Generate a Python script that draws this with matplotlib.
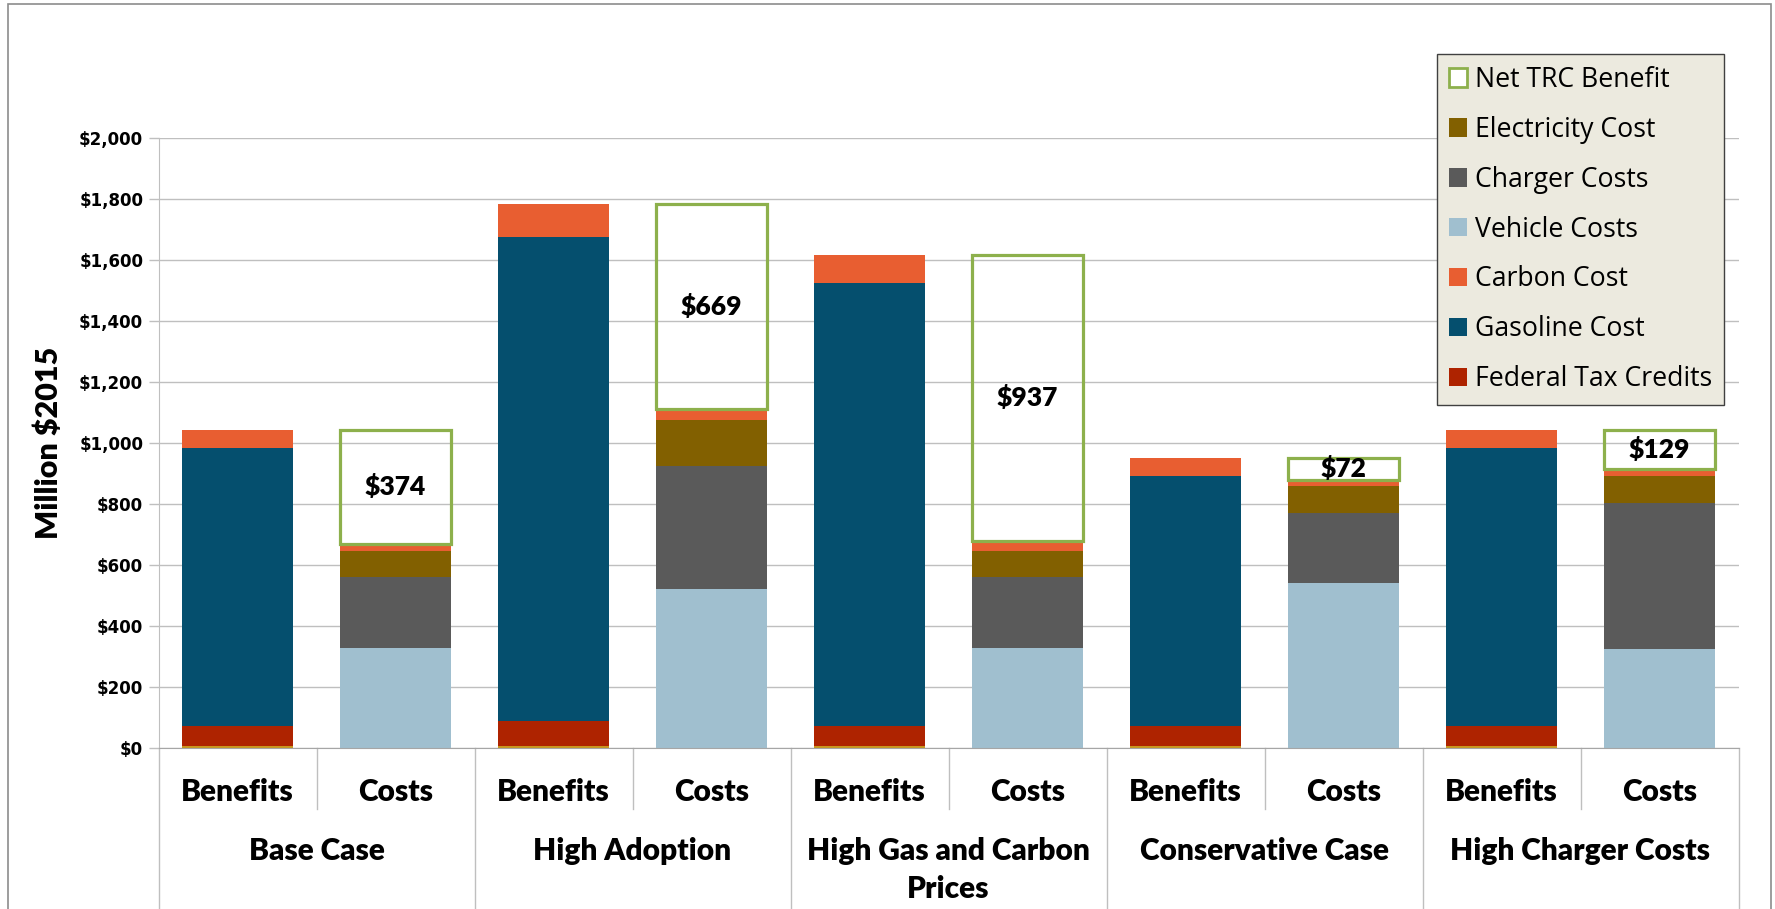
import numpy as np
import matplotlib
matplotlib.use("Agg")
import matplotlib.pyplot as plt
from matplotlib.patches import Patch, Rectangle
from matplotlib.transforms import blended_transform_factory
from matplotlib.ticker import FuncFormatter

plt.rcParams['font.family'] = ['Lato', 'DejaVu Sans']

scenarios = ["Base Case", "High Adoption", "High Gas and Carbon\nPrices",
             "Conservative Case", "High Charger Costs"]
sides = ["Benefits", "Costs"]

# benefit side ($ million 2015)
other_benefits = [5, 5, 5, 5, 5]
federal_tax_credits = [67, 84, 67, 67, 67]
gasoline_cost = [910, 1588, 1453, 819, 910]
carbon_benefit = [61, 105, 92, 60, 61]

# cost side
vehicle_costs = [327, 521, 327, 540, 326]
charger_costs = [234, 402, 234, 232, 478]
electricity_cost = [86, 152, 86, 87, 88]
carbon_cost = [22, 38, 33, 20, 22]
net_trc = [374, 669, 937, 72, 129]

c_fed = "#AE2300"
c_gas = "#054F6E"
c_carbon = "#E85E31"
c_vehicle = "#A0BFCF"
c_charger = "#5A5A5A"
c_elec = "#826000"
c_net = "#8DB04C"
c_other = "#C8961E"

BOLD = "heavy"

fig = plt.figure(figsize=(17.75, 9.09), dpi=100)
W, H = 1775, 909
ax_left, ax_right, ax_top, ax_bot = 158.5, 1738.5, 138, 748
ax = fig.add_axes([ax_left / W, 1 - ax_bot / H, (ax_right - ax_left) / W, (ax_bot - ax_top) / H])

xb = np.arange(len(scenarios)) * 2
xc = xb + 1
bw = 0.70

# benefits stack
bottom = np.zeros(len(scenarios))
for vals, col in [(other_benefits, c_other), (federal_tax_credits, c_fed),
                  (gasoline_cost, c_gas), (carbon_benefit, c_carbon)]:
    ax.bar(xb, vals, bw, bottom=bottom, color=col, linewidth=0)
    bottom += np.array(vals)

# costs stack
bottom = np.zeros(len(scenarios))
for vals, col in [(vehicle_costs, c_vehicle), (charger_costs, c_charger),
                  (electricity_cost, c_elec), (carbon_cost, c_carbon)]:
    ax.bar(xc, vals, bw, bottom=bottom, color=col, linewidth=0)
    bottom += np.array(vals)

# net benefit shown as an outlined box on top of the costs
ax.bar(xc, net_trc, bw, bottom=bottom, facecolor="none", edgecolor=c_net, linewidth=2.3)
for x, b, v in zip(xc, bottom, net_trc):
    ax.text(x, b + v / 2, f"${v:,}", ha="center", va="center",
            fontsize=19, fontweight=BOLD, color="black")

ax.set_xlim(-0.5, 9.5)
ax.set_ylim(0, 2000)
ax.set_yticks(np.arange(0, 2001, 200))
ax.yaxis.set_major_formatter(FuncFormatter(lambda v, p: f"${int(v):,}"))
for lab in ax.get_yticklabels():
    lab.set_fontfamily("DejaVu Sans")
    lab.set_fontweight("bold")
    lab.set_fontsize(12)
ax.tick_params(axis="y", length=7, color="#BFBFBF", width=1, pad=4)
ax.tick_params(axis="x", length=0, labelbottom=False)
ax.grid(axis="y", color="#BFBFBF", linewidth=1)
ax.set_axisbelow(True)
for s in ["top", "right"]:
    ax.spines[s].set_visible(False)
ax.spines["left"].set_color("#BFBFBF")
ax.spines["bottom"].set_color("#A6A6A6")

fig.text(49 / W, 1 - 443 / H, "Million $2015", rotation=90, ha="center", va="center",
         fontsize=22, fontweight=BOLD)

# two-level category axis
ph = ax_bot - ax_top
trans = blended_transform_factory(ax.transData, ax.transAxes)
for i in range(len(scenarios)):
    ax.text(xb[i], -44 / ph, sides[0], transform=trans, ha="center", va="center",
            fontsize=21.5, fontweight=BOLD)
    ax.text(xc[i], -44 / ph, sides[1], transform=trans, ha="center", va="center",
            fontsize=21.5, fontweight=BOLD)
    for j, line in enumerate(scenarios[i].split("\n")):
        ax.text(xb[i] + 0.5, (-103 - 38 * j) / ph, line, transform=trans, ha="center",
                va="center", fontsize=21.5, fontweight=BOLD)
    ax.plot([xb[i] + 0.5] * 2, [0, -61 / ph], transform=trans, color="#BFBFBF",
            linewidth=1, clip_on=False)
for x in np.arange(-0.5, 10, 2):
    ax.plot([x, x], [0, -0.3], transform=trans, color="#BFBFBF", linewidth=1, clip_on=False)

# outer chart frame
fig.patches.append(Rectangle((8 / W, -0.05), (1771 - 8) / W, 1.05 - 4 / H,
                             transform=fig.transFigure, fill=False,
                             edgecolor="#8C8C8C", linewidth=1.2))

handles = [
    Patch(facecolor="white", edgecolor=c_net, linewidth=2),
    Patch(facecolor=c_elec),
    Patch(facecolor=c_charger),
    Patch(facecolor=c_vehicle),
    Patch(facecolor=c_carbon),
    Patch(facecolor=c_gas),
    Patch(facecolor=c_fed),
]
labels = ["Net TRC Benefit", "Electricity Cost", "Charger Costs", "Vehicle Costs",
          "Carbon Cost", "Gasoline Cost", "Federal Tax Credits"]
leg = fig.legend(handles, labels, loc="upper right", bbox_to_anchor=(1724 / W, 1 - 54 / H),
                 prop={"family": "Open Sans", "size": 19.2}, handlelength=0.68,
                 handleheight=0.68, handletextpad=0.3, labelspacing=0.82,
                 borderpad=0.45, borderaxespad=0, fancybox=False, framealpha=1)
leg.get_frame().set_facecolor("#ECEADF")
leg.get_frame().set_edgecolor("#404040")
leg.get_frame().set_linewidth(1)

fig.savefig("out.png", dpi=100)
